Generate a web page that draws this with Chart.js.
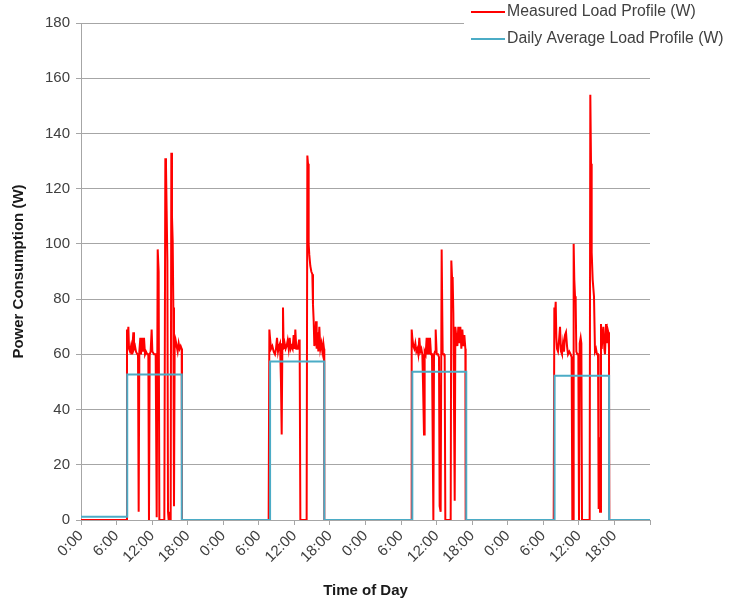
<!DOCTYPE html>
<html>
<head>
<meta charset="utf-8">
<title>Load Profile</title>
<script src="https://cdn.jsdelivr.net/npm/chart.js@4.4.1/dist/chart.umd.min.js"></script>
<style>
    html, body { margin: 0; padding: 0; background: #fff; }
    #wrap { width: 730px; height: 602px; position: relative; }
</style>
</head>
<body>
<div id="wrap"><canvas id="loadChart"></canvas></div>
<script>
// Horas desde el inicio (4 días) y potencia medida (W)
const measuredHours = [
    0, 7.70, 7.76, 7.87, 7.99, 8.10, 8.27, 8.44, 8.61, 8.83, 8.94, 9.11, 9.28, 9.51, 9.62,
    9.73, 9.84, 10.01, 10.12, 10.29, 10.46, 10.63, 10.80, 10.97, 11.19, 11.36, 11.47, 11.59, 11.75, 11.92,
    12.04, 12.32, 12.60, 12.77, 12.94, 13.10, 13.22, 14.06, 14.23, 14.34, 14.45, 14.57, 14.68, 14.79, 15.13,
    15.24, 15.35, 15.47, 15.58, 15.69, 15.80, 15.97, 16.14, 16.31, 16.48, 16.65, 16.82, 16.99, 17.04,
    31.66, 31.78, 31.89, 32.06, 32.28, 32.51, 32.73, 32.90, 33.07, 33.24, 33.41, 33.58, 33.74, 33.86, 33.97,
    34.08, 34.19, 34.36, 34.53, 34.70, 34.87, 35.04, 35.21, 35.37, 35.54, 35.71, 35.88, 36.05, 36.16, 36.33,
    36.56, 36.78, 36.89, 37.01, 38.07, 38.19, 38.30, 38.41, 38.52, 38.69, 38.86, 39.03, 39.14, 39.26, 39.37,
    39.54, 39.65, 39.76, 39.93, 40.04, 40.21, 40.38, 40.55, 40.72, 40.89, 41.00, 41.05,
    55.68, 55.79, 55.90, 56.07, 56.24, 56.41, 56.58, 56.75, 56.91, 57.08, 57.25, 57.42, 57.59, 57.70, 57.87,
    57.98, 58.15, 58.32, 58.43, 58.60, 58.71, 58.88, 59.05, 59.22, 59.33, 59.45, 59.56, 59.73, 59.84, 60.01,
    60.23, 60.40, 60.51, 60.68, 60.85, 61.02, 61.25, 61.36, 61.47, 62.37, 62.48, 62.60, 62.71, 62.82, 63.05,
    63.16, 63.33, 63.50, 63.66, 63.83, 64.00, 64.17, 64.34, 64.51, 64.68, 64.85, 64.90,
    79.75, 79.86, 79.97, 80.09, 80.20, 80.31, 80.48, 80.65, 80.82, 80.99, 81.15, 81.32, 81.49, 81.66, 81.83,
    82.00, 82.17, 82.39, 82.62, 82.78, 82.90, 83.01, 83.12, 83.23, 83.35, 83.46, 83.57, 83.74, 83.91, 84.02,
    84.14, 84.30, 84.42, 84.53, 85.82, 85.93, 86.05, 86.16, 86.33, 86.55, 86.72, 86.89, 87.06, 87.23, 87.34,
    87.45, 87.57, 87.73, 87.85, 88.02, 88.13, 88.30, 88.41, 88.58, 88.69, 88.86, 88.97, 89.08, 89.14, 96
];
const measuredWatts = [
    0, 0, 69, 66, 70, 62, 61, 63, 60, 68, 62, 63, 61, 60, 60,
    3, 61, 66, 60, 66, 61, 66, 60, 61, 60, 60, 0, 60, 61, 69,
    61, 60, 60, 1, 98, 90, 0, 0, 131, 128, 112, 94, 3, 0, 0,
    133, 110, 101, 77, 5, 62, 65, 63, 61, 64, 62, 63, 62, 0,
    0, 69, 66, 62, 63, 61, 60, 62, 66, 61, 63, 64, 50, 31, 62,
    77, 62, 64, 62, 63, 65, 62, 66, 62, 63, 62, 67, 62, 69, 62,
    62, 65, 65, 0, 0, 132, 129, 100, 96, 92, 90, 89, 78, 72, 63,
    66, 72, 62, 68, 61, 70, 62, 64, 61, 64, 62, 0,
    0, 69, 66, 63, 62, 64, 61, 62, 60, 66, 61, 62, 60, 50, 31,
    61, 60, 66, 60, 66, 60, 66, 60, 60, 60, 0, 60, 61, 69, 60,
    60, 59, 5, 3, 98, 60, 60, 59, 0, 0, 94, 88, 87, 75, 7,
    70, 66, 63, 70, 64, 70, 62, 69, 63, 67, 62, 0,
    0, 77, 74, 79, 66, 62, 61, 65, 70, 61, 60, 64, 61, 67, 68,
    63, 60, 61, 60, 59, 0, 0, 100, 87, 81, 79, 61, 60, 60, 0,
    64, 66, 64, 0, 0, 154, 129, 97, 87, 81, 61, 62, 60, 60, 4,
    30, 3, 71, 62, 67, 70, 62, 60, 71, 64, 69, 68, 62, 0, 0
];

// Perfil promedio diario (escalones)
const averageHours = [0, 7.80, 17.00, 31.90, 41.05, 55.90, 65.00, 79.90, 89.10, 96];
const averageWatts = [1.2, 52.7, 0, 57.4, 0, 53.7, 0, 52.2, 0, 0];

const tickLabels = ['0:00', '6:00', '12:00', '18:00'];
const seriesNames = ['Measured Load Profile (W)', 'Daily Average Load Profile (W)'];
const seriesColors = ['#ff0000', '#4bacc6'];

const FONT = '"Liberation Sans", Arial, sans-serif';
const GRID = '#a6a6a6';

// Leyenda en la esquina superior derecha, sobre el área del gráfico
const cornerLegend = {
    id: 'cornerLegend',
    afterDraw(chart) {
        const ctx = chart.ctx;
        ctx.save();
        ctx.fillStyle = '#fff';
        ctx.fillRect(464, 0, 266, 54);
        ctx.font = '15.8px ' + FONT;
        ctx.textBaseline = 'middle';
        seriesNames.forEach((name, i) => {
            const y = 12 + i * 27;
            ctx.strokeStyle = seriesColors[i];
            ctx.lineWidth = 2;
            ctx.beginPath();
            ctx.moveTo(471, y);
            ctx.lineTo(505, y);
            ctx.stroke();
            ctx.fillStyle = '#404040';
            ctx.fillText(name, 507, y);
        });
        ctx.restore();
    }
};

function toPoints(xs, ys) {
    return xs.map((x, i) => ({ x: x, y: ys[i] }));
}

new Chart(document.getElementById('loadChart'), {
    type: 'line',
    data: {
        datasets: [
            {
                label: seriesNames[0],
                data: toPoints(measuredHours, measuredWatts),
                borderColor: seriesColors[0],
                borderWidth: 2,
                pointRadius: 0,
                tension: 0,
                order: 1
            },
            {
                label: seriesNames[1],
                data: toPoints(averageHours, averageWatts),
                borderColor: seriesColors[1],
                borderWidth: 2,
                pointRadius: 0,
                stepped: 'before',
                order: 0
            }
        ]
    },
    options: {
        responsive: true,
        maintainAspectRatio: false,
        animation: false,
        layout: { padding: { left: 0, top: 23, right: 80, bottom: 0 } },
        plugins: {
            legend: { display: false },
            tooltip: { enabled: false }
        },
        scales: {
            x: {
                type: 'linear',
                min: 0,
                max: 96,
                afterFit: function(scale) { scale.height = 82; },
                afterBuildTicks: function(scale) {
                    scale.ticks = [];
                    for (let v = 0; v <= 96; v += 6) scale.ticks.push({ value: v });
                },
                grid: { drawOnChartArea: false, drawTicks: true, tickLength: 5, color: GRID },
                border: { display: true, color: GRID },
                ticks: {
                    autoSkip: false,
                    maxRotation: 45,
                    minRotation: 45,
                    padding: 2,
                    color: '#404040',
                    font: { family: FONT, size: 15 },
                    callback: function(value) {
                        if (value >= 96) return '';
                        return tickLabels[(value / 6) % 4];
                    }
                },
                title: {
                    display: true,
                    text: 'Time of Day',
                    color: '#1a1a1a',
                    padding: { top: 0, bottom: 2 },
                    font: { family: FONT, size: 15, weight: 'bold' }
                }
            },
            y: {
                min: 0,
                max: 180,
                afterFit: function(scale) { scale.width = 81; },
                grid: { color: GRID, tickLength: 5 },
                border: { display: true, color: GRID },
                ticks: {
                    stepSize: 20,
                    padding: 6,
                    color: '#404040',
                    font: { family: FONT, size: 15 }
                },
                title: {
                    display: true,
                    text: 'Power Consumption (W)',
                    color: '#1a1a1a',
                    padding: { top: 10, bottom: 0 },
                    font: { family: FONT, size: 15, weight: 'bold' }
                }
            }
        }
    },
    plugins: [cornerLegend]
});
</script>
</body>
</html>
